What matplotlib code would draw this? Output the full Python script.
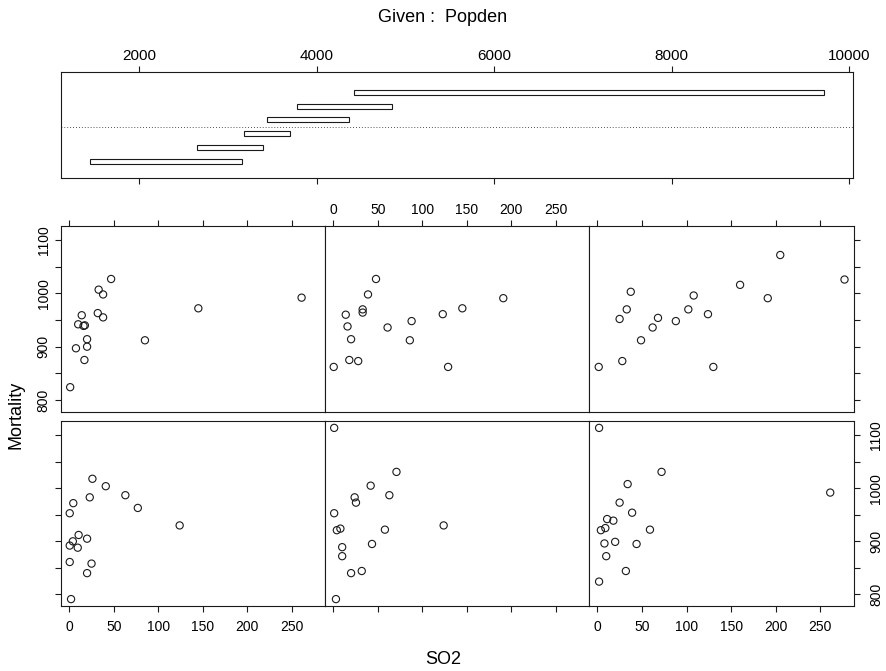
import numpy as np
import matplotlib
matplotlib.use('Agg')
import matplotlib.pyplot as plt
from matplotlib.patches import Rectangle

plt.rcParams['font.family'] = ['Liberation Sans', 'DejaVu Sans']

# conditioning intervals of Popden (bottom bar first)
popden_lo = [1449, 2652, 3181, 3444, 3774, 4418]
popden_hi = [3155, 3395, 3699, 4360, 4846, 9710]
popden_ticks = [2000, 4000, 6000, 8000, 10000]

# panels in coplot order: bottom row left->right, then top row left->right
so2_p1 = [26, 41, 63, 23, 4.5, 77, 0.5, 124, 10.5, 20, 4, 0.5, 9.5, 0.5, 25, 20, 2]
mort_p1 = [1018, 1004, 987, 983, 972, 963, 953, 930, 912, 905, 900, 892, 888, 861, 858, 840, 791]

so2_p2 = [1, 71, 42, 24, 25.5, 63, 1, 124, 8, 4, 58, 43.5, 10, 10, 20, 32, 3]
mort_p2 = [1114, 1031, 1005, 983, 973, 987, 953, 930, 924, 921, 922, 895, 889, 872, 840, 844, 791]

so2_p3 = [2, 72, 34, 261, 25, 39, 11, 18, 9, 4, 59, 20, 8, 44, 10, 32, 2]
mort_p3 = [1114, 1031, 1008, 992, 973, 954, 942, 939, 925, 921, 922, 899, 896, 895, 872, 844, 824]

so2_p4 = [47, 33, 38, 261, 145, 14, 32, 38, 10, 16, 17.5, 20, 85, 7.5, 20, 17, 1]
mort_p4 = [1027, 1007, 998, 992, 972, 959, 963, 955, 942, 939, 940, 914, 912, 897, 900, 875, 824]

so2_p5 = [48, 39, 191, 33, 33, 14, 145, 123, 88, 16, 61, 20, 86, 18, 28, 0.5, 129]
mort_p5 = [1027, 998, 991, 970, 964, 960, 972, 961, 948, 938, 936, 914, 912, 875, 873, 862, 862]

so2_p6 = [205, 277, 160, 37.5, 191, 108, 33, 102, 25, 68, 124, 88, 62, 49, 28, 1.6, 130]
mort_p6 = [1072, 1026, 1016, 1003, 991, 996, 970, 970, 952, 954, 961, 948, 936, 912, 873, 862, 862]

so2_ticks = [0, 50, 100, 150, 200, 250]
mort_ticks = [800, 850, 900, 950, 1000, 1050, 1100]

W, H = 886, 671
fig = plt.figure(figsize=(W / 100, H / 100), dpi=100)

def box(x0, y0, x1, y1):
    # pixel box -> figure fraction rect
    return [x0 / W, 1 - y1 / H, (x1 - x0) / W, (y1 - y0) / H]

lw = 0.8
ink = '#1a1a1a'

# given panel
ax0 = fig.add_axes(box(61, 72.3, 852.5, 177.7))
for k, (lo, hi) in enumerate(zip(popden_lo, popden_hi), start=1):
    ax0.add_patch(Rectangle((lo, k - 0.18), hi - lo, 0.36, facecolor='white',
                            edgecolor=ink, lw=lw))
ax0.axhline(3.5, color=ink, lw=0.6, ls=(0, (1, 2.5)))
ax0.set_xlim(1119, 10035)
ax0.set_ylim(-0.15, 7.43)
ax0.set_yticks([])
ax0.set_xticks(popden_ticks)
ax0.tick_params(axis='x', top=True, labeltop=True, bottom=True, labelbottom=False,
                direction='out', length=4, width=lw, labelsize=11, pad=3, color=ink)
for s in ax0.spines.values():
    s.set_linewidth(lw)
    s.set_color(ink)

so2_all = [so2_p1, so2_p2, so2_p3, so2_p4, so2_p5, so2_p6]
mort_all = [mort_p1, mort_p2, mort_p3, mort_p4, mort_p5, mort_p6]

col_x = [61, 325, 589, 853.7]
row_y = {1: (225.7, 411.7), 0: (421, 606)}  # 1 = top row, 0 = bottom row

for i in range(6):
    r = i // 3
    c = i % 3
    y0, y1 = row_y[r]
    ax = fig.add_axes(box(col_x[c], y0, col_x[c + 1], y1))
    ax.scatter(so2_all[i], mort_all[i], s=27, facecolors='none', edgecolors=ink,
               linewidths=lw)
    ax.set_xlim(-9.3, 287.3)
    ax.set_ylim(778, 1127)
    ax.set_xticks(so2_ticks)
    ax.set_yticks(mort_ticks)
    ax.set_yticklabels([str(v) if v % 100 == 0 else '' for v in mort_ticks])
    for s in ax.spines.values():
        s.set_linewidth(lw)
        s.set_color(ink)

    top_row = r == 1
    ax.tick_params(axis='x', direction='out', length=4, width=lw, labelsize=10, color=ink,
                   top=top_row, labeltop=top_row and c == 1,
                   bottom=not top_row, labelbottom=(not top_row) and c != 1)
    ax.tick_params(axis='x', which='major', pad=2 if top_row else 6)
    ax.tick_params(axis='y', direction='out', length=4, width=lw, labelsize=10, color=ink,
                   left=c == 0, labelleft=c == 0 and top_row,
                   right=c == 2, labelright=c == 2 and not top_row,
                   labelrotation=90)
    if c == 2:
        ax.tick_params(axis='y', pad=7)
    for lab in ax.get_yticklabels():
        lab.set_va('center')

fig.text(443 / W, 1 - 18 / H, 'Given :  Popden', ha='center', va='center', fontsize=13)
fig.text(443 / W, 1 - 660 / H, 'SO2', ha='center', va='center', fontsize=13)
fig.text(16 / W, 1 - 415 / H, 'Mortality', ha='center', va='center', rotation=90, fontsize=13)

fig.savefig('out.png', dpi=100)
